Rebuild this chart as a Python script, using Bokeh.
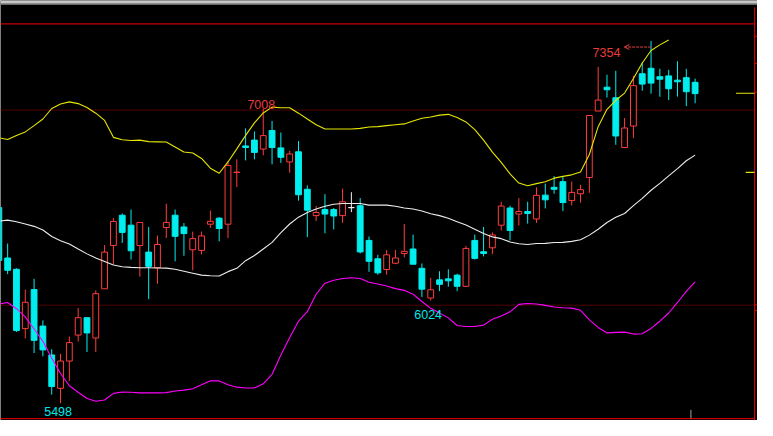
import math
from bokeh.plotting import figure
from bokeh.models import Range1d, ColumnDataSource, BoxAnnotation, Arrow, OpenHead
from bokeh.core.properties import value
from bokeh.embed import file_html
from bokeh.resources import INLINE

# ---------------- data ----------------
idx = list(range(-1, 79))
opens = [6500, 6242, 6184, 5880, 6080, 5893, 5745, 5574, 5714, 5847, 5936, 5832, 6084, 6306, 6461, 6410,
         6306, 6272, 6192, 6398, 6461, 6401, 6284, 6281, 6415, 6446, 6415, 6680, 6816, 6846, 6800, 6895,
         6806, 6734, 6786, 6594, 6459, 6490, 6490, 6459, 6500, 6510, 6332, 6238, 6183, 6215, 6265, 6288,
         6189, 6037, 6130, 6135, 6154, 6097, 6332, 6274, 6294, 6410, 6498, 6467, 6480, 6442, 6564, 6604,
         6633, 6536, 6571, 6654, 6995, 7117, 7063, 6808, 6918, 7186, 7214, 7171, 7175, 7153, 7166, 7142]
highs = [6515, 6316, 6189, 6080, 6135, 5922, 5774, 5750, 5839, 5985, 5937, 6076, 6308, 6446, 6470, 6490,
         6424, 6401, 6357, 6520, 6490, 6421, 6377, 6377, 6485, 6451, 6738, 6747, 6906, 6890, 7008, 6944,
         6885, 6791, 6841, 6614, 6508, 6569, 6498, 6597, 6579, 6549, 6352, 6258, 6283, 6283, 6416, 6362,
         6214, 6140, 6174, 6184, 6161, 6303, 6362, 6401, 6373, 6530, 6510, 6549, 6530, 6604, 6623, 6661,
         6658, 6633, 6617, 6972, 7221, 7181, 7201, 6959, 7175, 7245, 7354, 7211, 7206, 7250, 7211, 7161]
lows = [6179, 6159, 5863, 5830, 5755, 5738, 5542, 5498, 5612, 5814, 5760, 5760, 6084, 6209, 6319, 6234,
        6146, 6031, 6110, 6344, 6225, 6253, 6179, 6260, 6396, 6327, 6344, 6605, 6742, 6747, 6768, 6722,
        6729, 6679, 6536, 6349, 6431, 6368, 6388, 6422, 6477, 6265, 6171, 6156, 6156, 6210, 6245, 6210,
        6042, 6024, 6072, 6095, 6072, 6094, 6234, 6250, 6262, 6382, 6332, 6408, 6418, 6422, 6496, 6571,
        6482, 6511, 6526, 6576, 6995, 7064, 6822, 6808, 6857, 7099, 7084, 7068, 7051, 7069, 7020, 7035]
closes = [6229, 6179, 5870, 6015, 5820, 5771, 5583, 5714, 5808, 5936, 5858, 6059, 6272, 6429, 6373, 6279,
          6424, 6199, 6311, 6424, 6353, 6367, 6341, 6355, 6430, 6393, 6716, 6682, 6808, 6783, 6869, 6808,
          6758, 6775, 6566, 6487, 6475, 6467, 6457, 6530, 6500, 6273, 6225, 6166, 6258, 6242, 6276, 6210,
          6082, 6079, 6107, 6125, 6097, 6291, 6240, 6265, 6360, 6508, 6383, 6480, 6470, 6563, 6540, 6594,
          6526, 6578, 6592, 6972, 7051, 7104, 6867, 6908, 7125, 7133, 7138, 7158, 7109, 7145, 7094, 7084]
nan = float("nan")
upper = [6858, 6849, 6870, 6888, 6920, 6954, 7008, 7031, 7042, 7033, 7013, 6984, 6947, 6860, 6848, 6844,
         6846, 6838, 6837, 6836, 6811, 6785, 6780, 6752, 6702, 6676, 6734, 6801, 6870, 6934, 6985, 7015,
         7012, 7012, 6984, 6954, 6925, 6903, 6903, 6903, 6903, 6906, 6913, 6915, 6920, 6925, 6929, 6944,
         6958, 6964, 6974, 6978, 6962, 6939, 6900, 6846, 6784, 6732, 6673, 6626, 6612, 6623, 6633, 6651,
         6660, 6668, 6683, 6772, 6915, 7004, 7050, 7087, 7162, 7241, 7305, 7334, 7359, nan, nan, nan]
middle = [6431, 6436, 6428, 6416, 6404, 6385, 6352, 6330, 6314, 6288, 6263, 6242, 6224, 6206, 6197, 6194,
          6192, 6192, 6191, 6190, 6184, 6174, 6164, 6154, 6151, 6150, 6172, 6189, 6228, 6255, 6288, 6322,
          6372, 6416, 6451, 6475, 6493, 6507, 6517, 6521, 6521, 6521, 6513, 6513, 6513, 6507, 6498, 6493,
          6483, 6469, 6459, 6446, 6428, 6411, 6389, 6367, 6350, 6341, 6324, 6315, 6311, 6316, 6317, 6321,
          6322, 6327, 6335, 6359, 6389, 6424, 6451, 6470, 6510, 6547, 6589, 6624, 6663, 6700, 6740, 6769]
lower = [6006, 6014, 5982, 5940, 5878, 5815, 5728, 5650, 5587, 5554, 5522, 5508, 5514, 5548, 5555, 5554,
         5551, 5551, 5551, 5552, 5560, 5565, 5572, 5592, 5613, 5612, 5592, 5580, 5576, 5576, 5597, 5646,
         5745, 5834, 5918, 5967, 6056, 6113, 6128, 6137, 6141, 6137, 6118, 6109, 6098, 6085, 6076, 6056,
         6019, 5984, 5960, 5935, 5896, 5891, 5891, 5898, 5928, 5945, 5966, 6004, 6009, 6006, 5999, 5991,
         5987, 5985, 5974, 5925, 5886, 5858, 5861, 5862, 5852, 5854, 5881, 5918, 5960, 6014, 6071, 6120]
grid_levels = [7000, 6000]
right_ticks = [7377, 7239, 7092, 6002, 5973]
right_marks = [7086, 6681]
# extreme labels: (candle index, which price)
marks_idx = [73, 29, 48, 6]
marks_kind = ["high", "high", "low", "low"]

# ---------------- geometry ----------------
REF_W, REF_H = 773, 436
W, H = 757, 420
X_L, X_R = -7.3 / 9, (REF_W - 7.3) / 9
Y_T = 7561.3
Y_B = Y_T - 4.936 * REF_H
SX, SY = W / REF_W, H / REF_H


def fx(px):
    return X_L + px * (X_R - X_L) / REF_W


def fy(py):
    return Y_T - py * (Y_T - Y_B) / REF_H


RED = "#ff3c3c"
CYAN = "#00eeee"
WHITE = "#f0f0f0"
FRAME_RED = "#c80000"

p = figure(width=W, height=H, x_range=Range1d(X_L, X_R), y_range=Range1d(Y_B, Y_T),
           x_axis_type=None, y_axis_type=None, toolbar_location=None, output_backend="svg",
           min_border=0, min_border_left=0, min_border_right=0, min_border_top=0, min_border_bottom=0,
           background_fill_color="black", border_fill_color="black", outline_line_color=None)
p.grid.visible = False

# top grey strip
p.add_layout(BoxAnnotation(bottom=fy(3.3), fill_color="#c8c8c8", fill_alpha=1, line_alpha=0))
p.add_layout(BoxAnnotation(bottom=fy(4.7), top=fy(3.3), fill_color="#6a6a6a", fill_alpha=1, line_alpha=0))

# frame lines
xl, xr = fx(0), fx(770)
p.segment(x0=[xl, xl], y0=[fy(24.3), fy(434)], x1=[xr, xr], y1=[fy(24.3), fy(434)],
          line_color=FRAME_RED, line_width=1.2)
p.segment(x0=[xr], y0=[fy(7)], x1=[xr], y1=[fy(437)], line_color=FRAME_RED, line_width=1.2)
p.segment(x0=[xr] * len(right_ticks), y0=right_ticks, x1=[fx(774)] * len(right_ticks), y1=right_ticks,
          line_color=FRAME_RED, line_width=1.2)
p.segment(x0=[xl] * len(grid_levels), y0=grid_levels, x1=[xr] * len(grid_levels), y1=grid_levels,
          line_color="#a00000", line_width=1, line_dash="1 1")
p.segment(x0=[fx(751), fx(761)], y0=right_marks, x1=[xr, xr], y1=right_marks,
          line_color="#e6e600", line_width=1.2)
p.segment(x0=[fx(705)], y0=[fy(425)], x1=[fx(705)], y1=[fy(434)], line_color="#a0a0a0", line_width=1)

# candles
colors, fills, tops, bottoms = [], [], [], []
for o, c in zip(opens, closes):
    if c > o:
        colors.append(RED); fills.append("black")
    elif c < o:
        colors.append(CYAN); fills.append(CYAN)
    else:
        colors.append(WHITE); fills.append(WHITE)
    tops.append(max(o, c)); bottoms.append(min(o, c))

src = ColumnDataSource(dict(x=idx, high=highs, low=lows, top=tops, bottom=bottoms,
                            color=colors, fill=fills))
p.segment(x0="x", y0="low", x1="x", y1="high", line_color="color", line_width=1, source=src)
p.vbar(x="x", width=0.66, top="top", bottom="bottom", fill_color="fill", line_color="color",
       line_width=1, source=src)

# Bollinger bands
p.line(idx, upper, line_color="#e6e600", line_width=1.1)
p.line(idx, middle, line_color="#ececec", line_width=1.1)
p.line(idx, lower, line_color="#ff00ff", line_width=1.1)

# extreme labels
lx, ly, lt, lc, la, xo, yo = [], [], [], [], [], [], []
offs = {73: (-(664.3 - 633) * SX, (54.3 - 42) * SY, "right"),
        29: (-2 * SX, -3.7 * SY, "center"),
        48: (-2.6 * SX, 14 * SY, "center"),
        6: (-2.5 * SX, 8.5 * SY, "center")}
for i, kind in zip(marks_idx, marks_kind):
    k = idx.index(i)
    v = highs[k] if kind == "high" else lows[k]
    lx.append(i); ly.append(v); lt.append(str(v))
    lc.append("#e83c3c" if kind == "high" else "#00e6e6")
    xo.append(offs[i][0]); yo.append(offs[i][1]); la.append(offs[i][2])
lsrc = ColumnDataSource(dict(x=lx, y=ly, text=lt, color=lc, align=la, xo=xo, yo=yo))
p.text(x="x", y="y", text="text", text_color="color", text_align="align", x_offset="xo",
       y_offset="yo", text_baseline="alphabetic", text_font=value("Liberation Sans"),
       text_font_size="12.5px", source=lsrc)

# arrow from the highest candle to its label
k_hi = idx.index(marks_idx[0])
ya = highs[k_hi] - 6.3 * (Y_T - Y_B) / REF_H
p.add_layout(Arrow(end=OpenHead(size=5, line_color="#e83c3c", line_width=1),
                   x_start=marks_idx[0], y_start=ya, x_end=marks_idx[0] - 27.3 / 9, y_end=ya,
                   line_color="#e83c3c", line_width=1, line_dash="3 1"))

open("out.html", "w").write(file_html(p, INLINE))
